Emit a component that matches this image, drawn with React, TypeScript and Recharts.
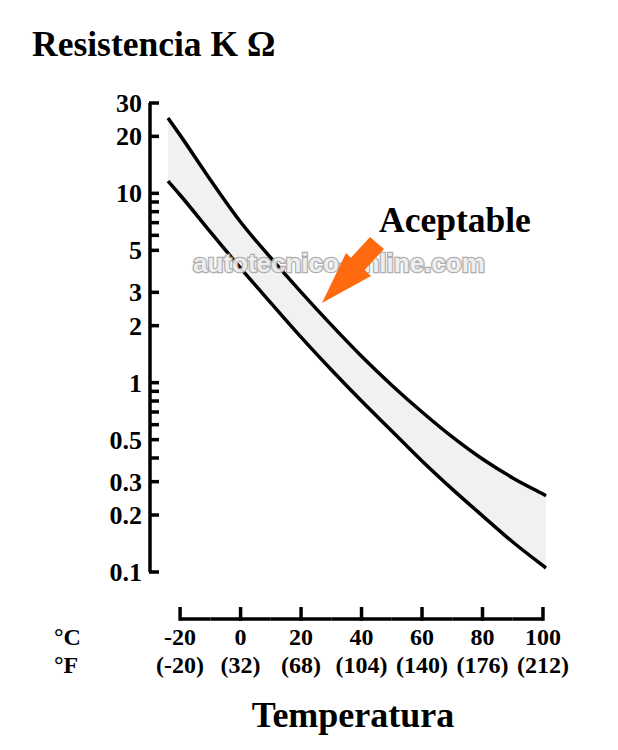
import { ComposedChart, Area, Line, XAxis, YAxis } from 'recharts'

// temperatura (°C) and the two limit curves (kΩ)
const TEMPS = [-24, -20, -10, 0, 10, 20, 30, 40, 50, 60, 70, 80, 90, 100, 101]
const HIGH = [25.0, 20.3, 11.8, 7.06, 4.56, 3.01, 2.02, 1.38, 0.97, 0.7, 0.517, 0.395, 0.314, 0.258, 0.253]
const LOW = [11.6, 9.8, 6.25, 4.03, 2.64, 1.74, 1.17, 0.8, 0.556, 0.386, 0.274, 0.198, 0.144, 0.108, 0.105]

const C_TICKS = [-20, 0, 20, 40, 60, 80, 100]
const F_LABELS = ['(-20)', '(32)', '(68)', '(104)', '(140)', '(176)', '(212)']
const Y_MAJOR = [0.1, 0.2, 0.3, 0.5, 1, 2, 3, 5, 10, 20, 30]
const Y_MINOR = [0.4, 0.6, 0.7, 0.8, 0.9, 6, 7, 8, 9]

const W = 618
const H = 750
const MARGIN = { top: 103, right: 72, bottom: 0, left: 0 }
const Y_AXIS_W = 150
const X_PAD_LEFT = 18
const X_DOMAIN = [-24, 101]
const X_PX = (W - MARGIN.right - Y_AXIS_W - X_PAD_LEFT) / (X_DOMAIN[1] - X_DOMAIN[0])
const X_STEP = 20 * X_PX

const SERIF = '"Liberation Serif", "Times New Roman", serif'

const data = TEMPS.map((t, i) => ({ t, high: HIGH[i], low: LOW[i], band: [LOW[i], HIGH[i]] }))

function YTick(props: any) {
  const { x, y, payload } = props
  const v = payload.value
  const major = Y_MAJOR.includes(v)
  return (
    <g>
      <line x1={x - 1} x2={x + 9} y1={y} y2={y} stroke="#000" strokeWidth={3.5} />
      {major && (
        <text x={x - 8} y={y + 9} textAnchor="end" fontFamily={SERIF} fontWeight="bold" fontSize={26} fill="#000">
          {String(v)}
        </text>
      )}
    </g>
  )
}

function XTick(props: any) {
  const { x, y, payload } = props
  const i = C_TICKS.indexOf(payload.value)
  const ly = y + 47
  const left = i === 0 ? 0 : X_STEP / 2
  const right = i === C_TICKS.length - 1 ? 0 : X_STEP / 2
  return (
    <g>
      <line x1={x - left} x2={x + right} y1={ly} y2={ly} stroke="#000" strokeWidth={3.5} />
      <line x1={x} x2={x} y1={ly - 12} y2={ly + 1.75} stroke="#000" strokeWidth={3.5} />
      <text x={x} y={y + 73} textAnchor="middle" fontFamily={SERIF} fontWeight="bold" fontSize={24} fill="#000">
        {payload.value}
      </text>
      <text x={x} y={y + 101} textAnchor="middle" fontFamily={SERIF} fontWeight="bold" fontSize={24} fill="#000">
        {F_LABELS[i]}
      </text>
    </g>
  )
}

export default function App() {
  return (
    <div style={{ position: 'absolute', left: 0, top: 0, width: W, height: H, background: '#fff' }}>
      <ComposedChart width={W} height={H} data={data} margin={MARGIN}>
        <XAxis
          dataKey="t"
          type="number"
          domain={X_DOMAIN}
          padding={{ left: X_PAD_LEFT, right: 0 }}
          ticks={C_TICKS}
          interval={0}
          tick={<XTick />}
          tickSize={0}
          tickMargin={0}
          axisLine={false}
          tickLine={false}
          height={H - MARGIN.top - 469}
        />
        <YAxis
          scale="log"
          domain={[0.1, 30]}
          allowDataOverflow
          ticks={[...Y_MAJOR, ...Y_MINOR].sort((a, b) => a - b)}
          interval={0}
          tick={<YTick />}
          tickSize={0}
          tickMargin={0}
          tickLine={false}
          axisLine={{ stroke: '#000', strokeWidth: 3.5 }}
          width={Y_AXIS_W}
        />
        <Area dataKey="band" type="monotone" fill="#f1f1f1" fillOpacity={1} stroke="none" isAnimationActive={false} />
        <Line dataKey="high" type="monotone" stroke="#000" strokeWidth={3.5} dot={false} isAnimationActive={false} />
        <Line dataKey="low" type="monotone" stroke="#000" strokeWidth={3.5} dot={false} isAnimationActive={false} />
      </ComposedChart>
      <svg width={W} height={H} style={{ position: 'absolute', left: 0, top: 0, pointerEvents: 'none' }}>
        <text x={32} y={56} fontFamily={SERIF} fontWeight="bold" fontSize={35.5} fill="#000">
          Resistencia K Ω
        </text>
        <text x={54} y={645} fontFamily={SERIF} fontWeight="bold" fontSize={24} fill="#000">°C</text>
        <text x={54} y={673} fontFamily={SERIF} fontWeight="bold" fontSize={24} fill="#000">°F</text>
        <text x={353} y={727} textAnchor="middle" fontFamily={SERIF} fontWeight="bold" fontSize={36} fill="#000">
          Temperatura
        </text>
        <text x={379} y={232} fontFamily={SERIF} fontWeight="bold" fontSize={35.5} fill="#000">
          Aceptable
        </text>
        <text
          x={193}
          y={272}
          fontFamily='"Liberation Sans", Arial, sans-serif'
          fontWeight="bold"
          fontSize={26}
          fill="#ededed"
          stroke="#a9a9a9"
          strokeWidth={2.6}
          paintOrder="stroke"
          opacity={0.92}
        >
          autotecnico-online.com
        </text>
        <polygon
          points="370,237 384,249 364.6,270 371,276 322,303 346,253 351,257.7"
          fill="#ff6a10"
        />
      </svg>
    </div>
  )
}
